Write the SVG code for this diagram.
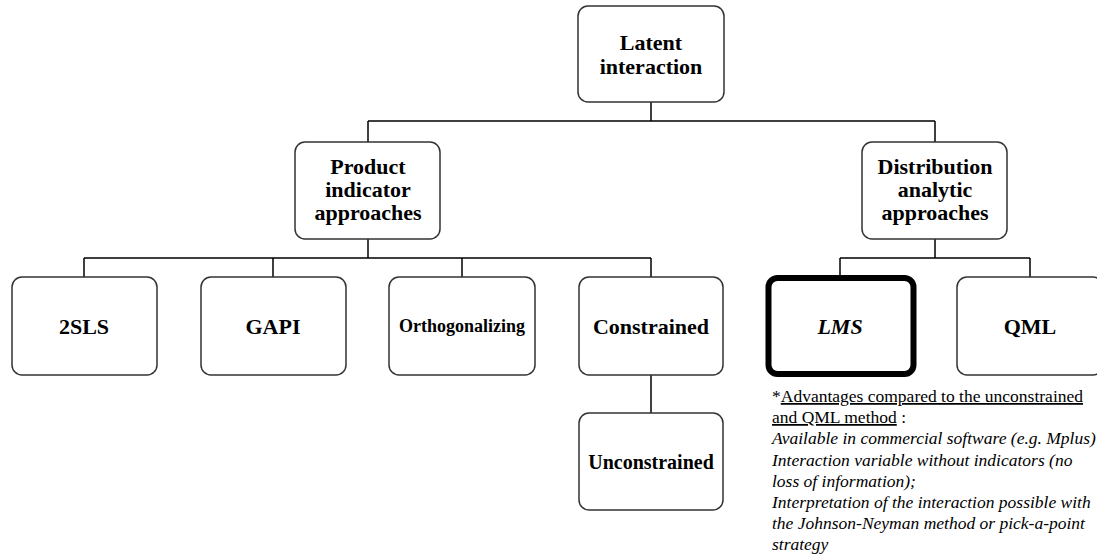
<svg xmlns="http://www.w3.org/2000/svg" width="1097" height="556" viewBox="0 0 1097 556">
<style>
.box{fill:#fff;stroke:#333;stroke-width:1.5}
.thick{fill:#fff;stroke:#000;stroke-width:6}
.lbl{font-family:"Liberation Serif","Times New Roman",serif;font-weight:bold;font-size:22px;fill:#000;text-anchor:middle}
.note{font-family:"Liberation Serif","Times New Roman",serif;font-size:17.5px;fill:#000}
.it{font-style:italic}
.ul{text-decoration:underline}
.con{fill:none;stroke:#000;stroke-width:1.5}
</style>
<rect width="1097" height="556" fill="#fff"/>
<g id="connectors">
<path class="con" d="M651 102V121M368 121H935M368 121V142M935 121V142"/>
<path class="con" d="M368 239V258M84 258H651M84 258V277M273 258V277M462 258V277M651 258V277"/>
<path class="con" d="M935 239V258M840 258H1030M840 258V275M1030 258V277"/>
<path class="con" d="M651 375V413"/>
</g>
<g id="latent"><rect class="box" x="578" y="6" width="146" height="96" rx="10"/><text class="lbl" x="651" y="50">Latent</text><text class="lbl" x="651" y="74">interaction</text></g>
<g id="product"><rect class="box" x="295" y="142" width="145" height="97" rx="10"/><text class="lbl" x="368" y="174">Product</text><text class="lbl" x="368" y="197">indicator</text><text class="lbl" x="368" y="220">approaches</text></g>
<g id="distribution"><rect class="box" x="862" y="142" width="145" height="97" rx="10"/><text class="lbl" x="935" y="174">Distribution</text><text class="lbl" x="935" y="197">analytic</text><text class="lbl" x="935" y="220">approaches</text></g>
<g id="tsls"><rect class="box" x="12" y="277" width="145" height="98" rx="10"/><text class="lbl" x="84" y="334">2SLS</text></g>
<g id="gapi"><rect class="box" x="201" y="277" width="145" height="98" rx="10"/><text class="lbl" x="273" y="334">GAPI</text></g>
<g id="orth"><rect class="box" x="389" y="277" width="146" height="98" rx="10"/><text class="lbl" x="462" y="332" style="font-size:18px">Orthogonalizing</text></g>
<g id="constrained"><rect class="box" x="579" y="277" width="144" height="98" rx="10"/><text class="lbl" x="651" y="334">Constrained</text></g>
<g id="unconstrained"><rect class="box" x="579" y="413" width="144" height="97" rx="10"/><text class="lbl" x="651" y="469" style="font-size:20px">Unconstrained</text></g>
<g id="lms"><rect class="thick" x="768.5" y="278" width="145" height="96" rx="9"/><text class="lbl it" x="840" y="334">LMS</text></g>
<g id="qml"><rect class="box" x="957" y="277" width="146" height="98" rx="10"/><text class="lbl" x="1030" y="334">QML</text></g>
<g id="note" class="note">
<text x="772" y="402">*<tspan class="ul">Advantages compared to the unconstrained</tspan></text>
<text x="772" y="423"><tspan class="ul">and QML method</tspan> :</text>
<text class="it" x="772" y="444">Available in commercial software (e.g. Mplus)</text>
<text class="it" x="772" y="466">Interaction variable without indicators (no</text>
<text class="it" x="772" y="487">loss of information);</text>
<text class="it" x="772" y="508">Interpretation of the interaction possible with</text>
<text class="it" x="772" y="529">the Johnson-Neyman method or pick-a-point</text>
<text class="it" x="772" y="550">strategy</text>
</g>
</svg>
